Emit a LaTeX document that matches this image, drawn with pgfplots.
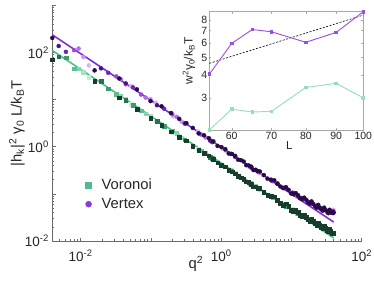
\documentclass[border=0pt]{standalone}
\usepackage{pgfplots}
\pgfplotsset{compat=1.18}
\usepackage{fontspec}
\setmainfont{Liberation Sans}
\definecolor{axgray}{HTML}{6B6B6B}
\definecolor{insgray}{HTML}{A8A8A8}
\definecolor{txt}{HTML}{262626}
\definecolor{pline}{HTML}{7F2FD6}
\definecolor{gline}{HTML}{4CC08C}
\definecolor{legG}{HTML}{4DBD8E}
\definecolor{legP}{HTML}{8A3BD5}
\definecolor{pA}{HTML}{E0B0F8}
\definecolor{pB}{HTML}{CF8FF0}
\definecolor{pC}{HTML}{B56BE6}
\definecolor{pD}{HTML}{9A4AD8}
\definecolor{pE}{HTML}{6E26B0}
\definecolor{pF}{HTML}{4A1480}
\definecolor{pG}{HTML}{2A0A4A}
\definecolor{gA}{HTML}{C4ECD7}
\definecolor{gB}{HTML}{A6E1C4}
\definecolor{gC}{HTML}{84D4AD}
\definecolor{gD}{HTML}{5CBF91}
\definecolor{gE}{HTML}{3F9C70}
\definecolor{gF}{HTML}{2A704F}
\definecolor{gG}{HTML}{173D2B}
\definecolor{insP}{HTML}{9B4EE0}
\definecolor{insG}{HTML}{98DCBC}
\begin{document}
\begin{tikzpicture}
\path[use as bounding box] (0,0) rectangle (374pt,282pt);
\begin{axis}[
  at={(52.3pt,41pt)}, anchor=south west,
  scale only axis, width=309.4pt, height=235.7pt,
  xmode=log, ymode=log,
  xmin=0.00395, xmax=100, ymin=0.01, ymax=1000,
  axis x line*=bottom, axis y line*=left,
  axis line style={draw=axgray, line width=0.6pt, -},
  every tick/.style={draw=axgray, line width=0.5pt},
  tick align=inside,
  major tick length=3.5pt, minor tick length=1.8pt,
  xtick={0.01,0.1,1,10,100},
  xticklabels={10\textsuperscript{-2},,10\textsuperscript{0},,10\textsuperscript{2}},
  minor xtick={0.004,0.005,0.006,0.007,0.008,0.009,0.02,0.03,0.04,0.05,0.06,0.07,0.08,0.09,0.2,0.3,0.4,0.5,0.6,0.7,0.8,0.9,2,3,4,5,6,7,8,9,20,30,40,50,60,70,80,90},
  ytick={0.01,0.1,1,10,100,1000},
  yticklabels={10\textsuperscript{-2},,10\textsuperscript{0},,10\textsuperscript{2},},
  minor ytick={0.02,0.03,0.04,0.05,0.06,0.07,0.08,0.09,0.2,0.3,0.4,0.5,0.6,0.7,0.8,0.9,2,3,4,5,6,7,8,9,20,30,40,50,60,70,80,90,200,300,400,500,600,700,800,900},
  ticklabel style={font=\fontsize{13.5}{15}\selectfont, text=txt},
  xticklabel style={yshift=-5pt},
  xlabel={q\textsuperscript{2}},
  xlabel style={at={(axis description cs:0.464,0)}, anchor=north, inner sep=0pt, yshift=-15pt, font=\fontsize{14.8}{16}\selectfont, text=txt},
  ylabel={|h\textsubscript{k}|\textsuperscript{2} γ\textsubscript{0} L/k\textsubscript{B}T},
  ylabel style={at={(axis description cs:-0.114,0.5)}, anchor=center, inner sep=0pt, font=\fontsize{14.8}{16}\selectfont, text=txt},
  legend style={at={(axis description cs:0.107,0.197)}, anchor=west, draw=none, fill=none, inner sep=0pt, font=\fontsize{14.8}{16}\selectfont, text=txt, row sep=3pt, /tikz/every odd column/.append style={column sep=8pt}},
  legend cell align=left,
  clip=false,
]
\addlegendimage{only marks, mark=square*, mark size=3pt, color=legG}
\addlegendentry{Voronoi}
\addlegendimage{only marks, mark=*, mark size=3pt, color=legP}
\addlegendentry{Vertex}
% ---------------- Vertex (purple) ----------------
\addplot[only marks, mark=*, mark size=2pt, color=pA, forget plot] coordinates {
(0.01305,53) (0.0522,19.5) (0.1175,8.6) (0.209,4.4) (0.47,2.1) (1.057,0.9) (2.558,0.38) (5.22,0.19) (10.23,0.107) (16.91,0.07) (25.3,0.052) (39.48,0.046)};
\addplot[only marks, mark=*, mark size=2pt, color=pB, forget plot] coordinates {
(0.01097,80) (0.0439,21) (0.0987,10.2) (0.274,3.4) (0.702,1.4) (1.579,0.60) (3.55,0.275) (7.42,0.14) (12.68,0.088) (19.35,0.063) (27.4,0.048) (39.48,0.040)};
\addplot[only marks, mark=*, mark size=2pt, color=pC, forget plot] coordinates {
(0.00934,121) (0.0374,27) (0.0841,11.0) (0.2336,4.3) (0.598,1.58) (1.345,0.70) (3.03,0.32) (6.32,0.168) (12.11,0.093) (19.77,0.062) (29.3,0.047) (39.48,0.041)};
\addplot[only marks, mark=*, mark size=2pt, color=pD, forget plot] coordinates {
(0.00806,112) (0.0322,31) (0.0725,12.8) (0.201,4.9) (0.516,1.82) (1.16,0.84) (2.61,0.365) (5.45,0.185) (10.44,0.106) (17.05,0.068) (25.27,0.050) (39.48,0.040)};
\addplot[only marks, mark=*, mark size=2pt, color=pE, forget plot] coordinates {
(0.00617,103) (0.0247,37) (0.0555,18.2) (0.154,6.4) (0.302,3.1) (0.746,1.25) (1.388,0.71) (2.72,0.36) (5.19,0.192) (8.45,0.128) (12.49,0.088) (17.33,0.068) (22.95,0.053) (29.37,0.046) (34.70,0.0415) (39.48,0.039)};
\addplot[only marks, mark=*, mark size=2pt, color=pF, forget plot] coordinates {
(0.00487,137) (0.0195,46) (0.0439,22) (0.122,7.6) (0.312,3.15) (0.702,1.33) (1.579,0.62) (3.295,0.30) (6.317,0.165) (10.31,0.104) (14.21,0.081) (18.74,0.067) (23.88,0.055) (29.65,0.046) (36.05,0.0405) (39.48,0.0425)};
\addplot[only marks, mark=*, mark size=2pt, color=pG, forget plot] coordinates {
(0.00395,203) (0.0158,41.6) (0.0355,28) (0.0632,16.5) (0.0987,9.3) (0.142,7.2) (0.193,5.2) (0.253,3.9) (0.320,3.15) (0.395,2.5) (0.478,1.92) (0.569,1.75) (0.667,1.52) (0.774,1.3) (0.888,1.04) (1.01,0.98) (1.141,0.89) (1.279,0.72) (1.425,0.70) (1.579,0.64) (1.741,0.53) (1.911,0.52) (2.088,0.485) (2.274,0.405) (2.467,0.40) (2.669,0.378) (2.878,0.32) (3.095,0.325) (3.320,0.305) (3.553,0.298) (4.043,0.25) (4.564,0.21) (5.117,0.20) (5.701,0.194) (6.317,0.163) (6.964,0.143) (7.643,0.132) (8.354,0.139) (9.096,0.122) (9.87,0.102) (10.68,0.098) (11.51,0.104) (12.38,0.094) (13.28,0.081) (14.21,0.077) (15.18,0.083) (16.17,0.075) (17.20,0.065) (18.26,0.062) (19.35,0.069) (20.47,0.061) (21.62,0.0554) (22.80,0.051) (24.02,0.0585) (25.27,0.051) (26.55,0.047) (27.86,0.044) (29.20,0.051) (30.57,0.0455) (31.98,0.042) (33.42,0.039) (34.88,0.046) (36.38,0.0415) (37.92,0.0393) (39.48,0.040)};
% ---------------- Voronoi (green) ----------------
\addplot[only marks, mark=square*, mark size=1.8pt, color=gA, forget plot] coordinates {
(0.01305,30) (0.0522,8.0) (0.1175,3.6) (0.209,2.0) (0.47,0.9) (1.057,0.40) (2.558,0.17) (5.22,0.087) (10.23,0.047) (16.91,0.029) (25.3,0.0205) (39.48,0.015)};
\addplot[only marks, mark=square*, mark size=1.8pt, color=gB, forget plot] coordinates {
(0.01097,38) (0.0439,10.5) (0.0987,4.5) (0.274,1.55) (0.702,0.62) (1.579,0.28) (3.55,0.125) (7.42,0.062) (12.68,0.038) (19.35,0.026) (27.4,0.0195) (39.48,0.0149)};
\addplot[only marks, mark=square*, mark size=1.8pt, color=gC, forget plot] coordinates {
(0.00934,45) (0.0374,12) (0.0841,5.0) (0.2336,1.95) (0.598,0.72) (1.345,0.32) (3.03,0.145) (6.32,0.072) (12.11,0.039) (19.77,0.026) (29.3,0.0185) (39.48,0.0148)};
\addplot[only marks, mark=square*, mark size=1.8pt, color=gD, forget plot] coordinates {
(0.00806,45) (0.0322,13) (0.0725,5.8) (0.201,2.2) (0.516,0.82) (1.16,0.38) (2.61,0.168) (5.45,0.083) (10.44,0.046) (17.05,0.029) (25.27,0.021) (39.48,0.0147)};
\addplot[only marks, mark=square*, mark size=1.8pt, color=gE, forget plot] coordinates {
(0.00617,77) (0.0247,17) (0.0555,7.7) (0.154,2.75) (0.302,1.4) (0.746,0.57) (1.388,0.31) (2.72,0.16) (5.19,0.087) (8.45,0.055) (12.49,0.038) (17.33,0.029) (22.95,0.0228) (29.37,0.0183) (34.70,0.0162) (39.48,0.0148)};
\addplot[only marks, mark=square*, mark size=1.8pt, color=gF, forget plot] coordinates {
(0.00487,82) (0.0195,24.3) (0.0439,9.6) (0.122,3.5) (0.312,1.35) (0.702,0.6) (1.579,0.27) (3.295,0.135) (6.317,0.073) (10.31,0.0465) (14.21,0.035) (18.74,0.027) (23.88,0.0218) (29.65,0.0182) (36.05,0.0153) (39.48,0.0147)};
\addplot[only marks, mark=square*, mark size=1.8pt, color=gG, forget plot] coordinates {
(0.00395,70) (0.0158,24.3) (0.0355,11) (0.0632,6.3) (0.0987,4.0) (0.142,2.85) (0.193,2.1) (0.253,1.6) (0.320,1.34) (0.395,1.03) (0.478,0.85) (0.569,0.72) (0.667,0.64) (0.774,0.54) (0.888,0.46) (1.01,0.41) (1.141,0.375) (1.279,0.32) (1.425,0.295) (1.579,0.27) (1.741,0.235) (1.911,0.222) (2.088,0.205) (2.274,0.18) (2.467,0.175) (2.669,0.162) (2.878,0.143) (3.095,0.141) (3.320,0.13) (3.553,0.131) (4.043,0.110) (4.564,0.0925) (5.117,0.088) (5.701,0.0867) (6.317,0.0725) (6.964,0.063) (7.643,0.058) (8.354,0.0614) (9.096,0.054) (9.87,0.0452) (10.68,0.0425) (11.51,0.0454) (12.38,0.041) (13.28,0.0352) (14.21,0.033) (15.18,0.0364) (16.17,0.032) (17.20,0.0282) (18.26,0.0262) (19.35,0.0295) (20.47,0.0262) (21.62,0.0234) (22.80,0.0216) (24.02,0.0246) (25.27,0.0217) (26.55,0.0196) (27.86,0.0181) (29.20,0.0209) (30.57,0.0185) (31.98,0.0168) (33.42,0.0158) (34.88,0.0179) (36.38,0.0160) (37.92,0.0146) (39.48,0.0145)};
% ---------------- fit lines ----------------
\addplot[color=pline, line width=1.6pt, forget plot] coordinates {(0.00395,237) (40,0.0252)};
\addplot[color=gline, line width=1.6pt, forget plot] coordinates {(0.00395,110) (40,0.01157)};
\end{axis}
% ---------------- inset ----------------
\begin{axis}[
  at={(209.3pt,152pt)}, anchor=south west,
  scale only axis, width=154pt, height=118.3pt,
  xmode=log, ymode=log,
  xmin=55, xmax=100, ymin=2.02, ymax=8.87,
  axis background/.style={fill=white},
  axis line style={draw=insgray, line width=0.5pt},
  every tick/.style={draw=insgray, line width=0.4pt},
  tick align=inside, major tick length=2pt,
  xtick={60,70,80,90,100}, xticklabels={60,70,80,90,100},
  ytick={3,4,5,6,7,8}, yticklabels={3,4,5,6,7,8},
  minor xtick={}, minor ytick={},
  ticklabel style={font=\fontsize{10.5}{12}\selectfont, text=txt},
  xticklabel style={inner sep=1.5pt},
  yticklabel style={inner sep=2pt},
  xlabel={L},
  xlabel style={at={(axis description cs:0.52,0)}, anchor=north, inner sep=0pt, yshift=-11pt, font=\fontsize{11.5}{13}\selectfont, text=txt},
  ylabel={w\textsuperscript{2}γ\textsubscript{0}/k\textsubscript{B}T},
  ylabel style={at={(axis description cs:-0.132,0.583)}, anchor=center, inner sep=0pt, font=\fontsize{12}{13}\selectfont, text=txt},
  clip=false,
]
\addplot[color=black, dashed, dash pattern=on 2pt off 1.5pt, line width=0.6pt] coordinates {(55,4.65) (100,8.5)};
\addplot[color=insG, line width=0.9pt, mark=square*, mark size=1.3pt] coordinates {
(55,2.02) (60,2.62) (65,2.53) (70,2.55) (80,3.44) (90,3.62) (100,3.02)};
\addplot[color=insP, line width=0.9pt, mark=square*, mark size=1.3pt] coordinates {
(55,4.06) (60,5.97) (65,7.1) (70,6.9) (80,6.05) (90,6.85) (100,8.87)};
\end{axis}
\end{tikzpicture}
\end{document}
